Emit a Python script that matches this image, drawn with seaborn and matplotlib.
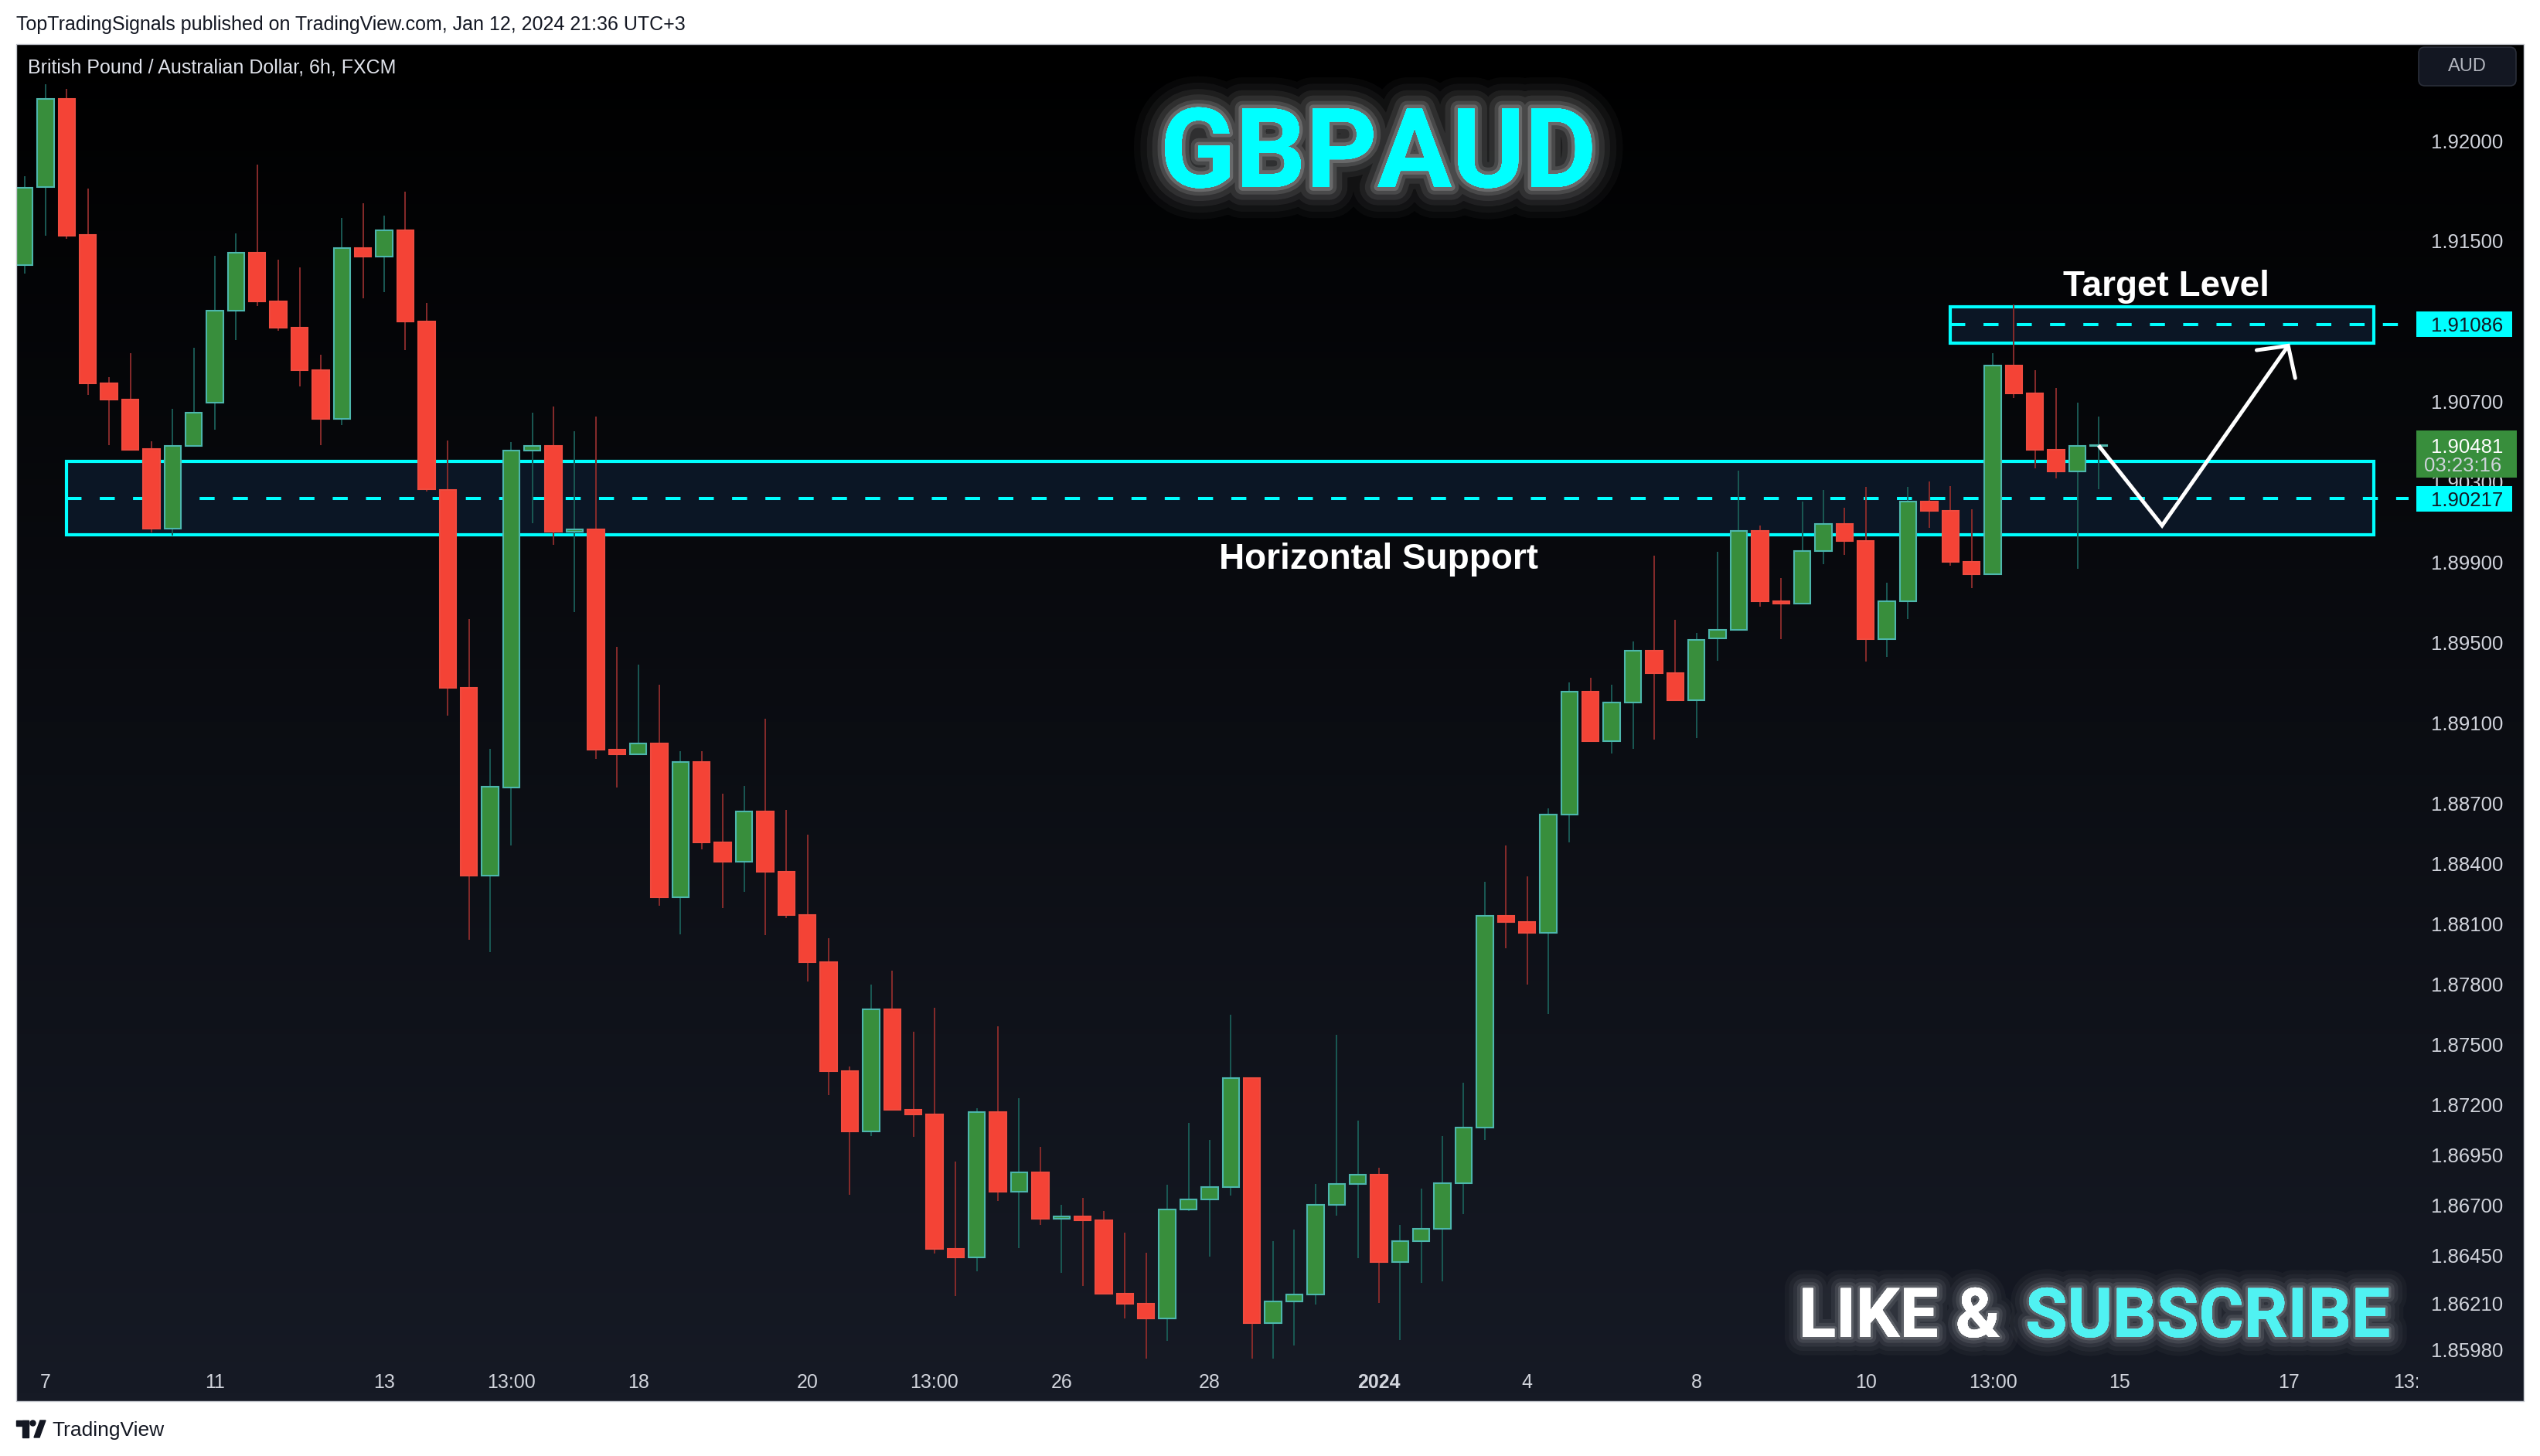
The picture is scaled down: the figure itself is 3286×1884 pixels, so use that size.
import numpy as np
import pandas as pd
import matplotlib
matplotlib.use('Agg')
import matplotlib.pyplot as plt
import matplotlib.patheffects as pe
import matplotlib.transforms as mtransforms
from matplotlib.patches import Rectangle, FancyBboxPatch, Circle, Polygon
from matplotlib.colors import LinearSegmentedColormap
from matplotlib import font_manager as fm
import seaborn as sns

# --------------------------
# Data: GBPAUD 6h candles
# --------------------------
opens = [1.91379, 1.91768, 1.92209, 1.91529, 1.90790, 1.90712, 1.90465, 1.90070, 1.90481, 1.90694,
         1.91152, 1.91444, 1.91201, 1.91070, 1.90859, 1.90616, 1.91466, 1.91422, 1.91553, 1.91099,
         1.90262, 1.89275, 1.88339, 1.88781, 1.90458, 1.90481, 1.90054, 1.90065, 1.88970, 1.88946,
         1.89000, 1.88235, 1.88905, 1.88508, 1.88409, 1.88661, 1.88359, 1.88144, 1.87910, 1.87367,
         1.87068, 1.87674, 1.87176, 1.87152, 1.86484, 1.86440, 1.87162, 1.86768, 1.86862, 1.86633,
         1.86645, 1.86626, 1.86261, 1.86210, 1.86137, 1.86677, 1.86727, 1.86789, 1.87331, 1.86114,
         1.86222, 1.86254, 1.86703, 1.86806, 1.86850, 1.86418, 1.86521, 1.86582, 1.86811, 1.87088,
         1.88139, 1.88109, 1.88057, 1.88646, 1.89255, 1.89010, 1.89203, 1.89459, 1.89348, 1.89213,
         1.89522, 1.89563, 1.90057, 1.89706, 1.89694, 1.89958, 1.90092, 1.90007, 1.89517, 1.89706,
         1.90203, 1.90156, 1.89903, 1.89842, 1.90881, 1.90742, 1.90462, 1.90355, 1.90479]
highs = [1.91822, 1.92280, 1.92258, 1.91762, 1.90823, 1.90942, 1.90503, 1.90665, 1.90968, 1.91426,
         1.91538, 1.91881, 1.91407, 1.91369, 1.90934, 1.91614, 1.91688, 1.91626, 1.91746, 1.91192,
         1.90508, 1.89618, 1.88973, 1.90499, 1.90646, 1.90677, 1.90553, 1.90628, 1.89481, 1.89390,
         1.89291, 1.88959, 1.88959, 1.88749, 1.88788, 1.89122, 1.88668, 1.88544, 1.88029, 1.87391,
         1.87799, 1.87867, 1.87564, 1.87683, 1.86918, 1.87183, 1.87591, 1.87232, 1.86991, 1.86702,
         1.86736, 1.86671, 1.86563, 1.86463, 1.86802, 1.87110, 1.87025, 1.87649, 1.87335, 1.86521,
         1.86577, 1.86806, 1.87547, 1.87120, 1.86887, 1.86602, 1.86781, 1.87044, 1.87309, 1.88310,
         1.88492, 1.88337, 1.88676, 1.89302, 1.89326, 1.89292, 1.89508, 1.89935, 1.89616, 1.89550,
         1.89952, 1.90358, 1.90082, 1.89822, 1.90205, 1.90262, 1.90174, 1.90277, 1.89799, 1.90277,
         1.90304, 1.90281, 1.90163, 1.90943, 1.91185, 1.90859, 1.90767, 1.90695, 1.90626]
lows = [1.91339, 1.91528, 1.91513, 1.90736, 1.90485, 1.90457, 1.90048, 1.90034, 1.90475, 1.90562,
        1.91008, 1.91177, 1.91055, 1.90776, 1.90485, 1.90585, 1.91217, 1.91247, 1.90958, 1.90254,
        1.89137, 1.88020, 1.87959, 1.88490, 1.90097, 1.89987, 1.89652, 1.88921, 1.88779, 1.88946,
        1.88189, 1.88048, 1.88470, 1.88178, 1.88259, 1.88045, 1.88131, 1.87813, 1.87250, 1.86753,
        1.87046, 1.87170, 1.87040, 1.86460, 1.86249, 1.86371, 1.86721, 1.86488, 1.86603, 1.86364,
        1.86296, 1.86255, 1.86137, 1.85938, 1.86026, 1.86670, 1.86444, 1.86749, 1.85938, 1.85938,
        1.86003, 1.86207, 1.86649, 1.86435, 1.86214, 1.86028, 1.86312, 1.86322, 1.86656, 1.87024,
        1.87979, 1.87797, 1.87653, 1.88506, 1.89010, 1.88948, 1.88973, 1.89017, 1.89213, 1.89024,
        1.89410, 1.89563, 1.89678, 1.89517, 1.89694, 1.89892, 1.89938, 1.89406, 1.89429, 1.89620,
        1.90072, 1.89885, 1.89773, 1.89842, 1.90719, 1.90367, 1.90317, 1.89869, 1.90263]
closes = [1.91766, 1.92209, 1.91528, 1.90790, 1.90712, 1.90462, 1.90070, 1.90482, 1.90644, 1.91152,
          1.91444, 1.91201, 1.91070, 1.90859, 1.90616, 1.91466, 1.91422, 1.91553, 1.91099, 1.90263,
          1.89275, 1.88339, 1.88783, 1.90458, 1.90481, 1.90054, 1.90065, 1.88970, 1.88946, 1.89000,
          1.88235, 1.88905, 1.88508, 1.88409, 1.88661, 1.88359, 1.88144, 1.87910, 1.87368, 1.87068,
          1.87674, 1.87176, 1.87152, 1.86484, 1.86440, 1.87162, 1.86768, 1.86862, 1.86633, 1.86645,
          1.86626, 1.86261, 1.86210, 1.86137, 1.86677, 1.86727, 1.86789, 1.87331, 1.86114, 1.86222,
          1.86254, 1.86703, 1.86806, 1.86850, 1.86418, 1.86521, 1.86582, 1.86811, 1.87088, 1.88139,
          1.88109, 1.88057, 1.88646, 1.89255, 1.89010, 1.89203, 1.89459, 1.89348, 1.89213, 1.89513,
          1.89563, 1.90057, 1.89706, 1.89694, 1.89958, 1.90092, 1.90007, 1.89517, 1.89706, 1.90203,
          1.90156, 1.89903, 1.89842, 1.90881, 1.90742, 1.90462, 1.90355, 1.90479, 1.90481]

# time axis (bar index) and price axis labels
time_ticks = [1, 9, 17, 23, 29, 37, 43, 49, 56, 64, 71, 79, 87, 93, 99, 107, 113.05]
time_labels = ['7', '11', '13', '13:00', '18', '20', '13:00', '26', '28', '2024',
               '4', '8', '10', '13:00', '15', '17', '13:00']
price_ticks = [1.92000, 1.91500, 1.90700, 1.90300, 1.89900, 1.89500, 1.89100, 1.88700, 1.88400,
               1.88100, 1.87800, 1.87500, 1.87200, 1.86950, 1.86700, 1.86450, 1.86210, 1.85980]

# drawings
support_level = 1.90217
support_zone = [1.90036, 1.90404]
support_bars = [1.98, 111.0]
target_level = 1.91086
target_zone = [1.90992, 1.91174]
target_bars = [91.0, 111.0]
last_price = 1.90481
countdown = '03:23:16'
path_x = [98.0, 101.0, 106.96]
path_y = [1.90483, 1.90084, 1.90979]
head_x = [105.47, 106.96, 107.29]
head_y = [1.90957, 1.90979, 1.90818]

# --------------------------
# Style
# --------------------------
sns.set_theme(style='dark')
avail = {f.name for f in fm.fontManager.ttflist}
SANS = 'Liberation Sans' if 'Liberation Sans' in avail else 'DejaVu Sans'
if 'Liberation Sans Narrow' in avail:
    BIG_FAM, BIG_SIZE, SUB_SIZE = ['Liberation Sans Narrow'], 113, 69
else:
    BIG_FAM, BIG_SIZE, SUB_SIZE = ['Roboto', SANS], 103, 64
plt.rcParams['font.family'] = [SANS, 'DejaVu Sans']
plt.rcParams['lines.scale_dashes'] = False

CYAN = '#00ffff'
UP, UP_EDGE, UP_WICK = '#388e3c', '#4db6ac', '#1a5954'
DN, DN_EDGE, DN_WICK = '#f44336', '#ef4b3f', '#872b2b'
AXIS_TXT = '#d1d4dc'

W, H, DPI = 3286, 1884, 100
fig = plt.figure(figsize=(W / DPI, H / DPI), dpi=DPI, facecolor='white')
# pixel coords, origin top-left
pix = mtransforms.Affine2D().scale(1 / W, -1 / H).translate(0, 1) + fig.transFigure

PX0, PX1, PY0, PY1 = 21, 3265, 57, 1813
PLOT_RIGHT = 3116
ax = fig.add_axes([PX0 / W, 1 - PY1 / H, (PX1 - PX0) / W, (PY1 - PY0) / H])

def axfrac(px):
    return (px - PX0) / (PX1 - PX0)

# background gradient
bg = LinearSegmentedColormap.from_list('tvbg', ['#000000', '#161a25'])
ax.imshow(np.linspace(0, 1, 256).reshape(-1, 1), cmap=bg, extent=[0, 1, 0, 1],
          transform=ax.transAxes, aspect='auto', zorder=0, interpolation='bicubic')

# --------------------------
# Candles
# --------------------------
df = pd.DataFrame({'o': opens, 'h': highs, 'l': lows, 'c': closes})
df['x'] = np.arange(len(df))
up = df['c'] >= df['o']
body_bot = df[['o', 'c']].min(axis=1)
body_h = (df['c'] - df['o']).abs().clip(lower=0.00004)

ax.vlines(df['x'], df['l'], df['h'], colors=list(np.where(up, UP_WICK, DN_WICK)),
          linewidth=1.4, zorder=3)
ax.bar(df['x'], body_h, bottom=body_bot, width=0.78,
       color=list(np.where(up, UP, DN)), edgecolor=list(np.where(up, UP_EDGE, DN_EDGE)),
       linewidth=1.5, zorder=4)

# --------------------------
# Zones and levels
# --------------------------
for zone, bars, level in [(support_zone, support_bars, support_level),
                          (target_zone, target_bars, target_level)]:
    ax.add_patch(Rectangle((bars[0], zone[0]), bars[1] - bars[0], zone[1] - zone[0],
                           facecolor='#0b1625', edgecolor=CYAN, linewidth=3.0, zorder=2))
    ax.plot([bars[0], 112.65], [level, level], color=CYAN, linewidth=2.9,
            linestyle=(0, (14, 17)), zorder=2.5)

# projected path
sns.lineplot(x=path_x, y=path_y, sort=False, color='white', linewidth=3.6, ax=ax,
             zorder=6, solid_joinstyle='miter', solid_capstyle='butt')
sns.lineplot(x=head_x, y=head_y, sort=False, color='white', linewidth=3.6, ax=ax,
             zorder=6, solid_joinstyle='miter', solid_capstyle='round')

ax.set_xlim(-0.387, 118.09)
ax.set_ylim(1.857245, 1.924810)
ax.set_xlabel('')
ax.set_ylabel('')
ax.grid(False)
for s in ax.spines.values():
    s.set_visible(False)

# --------------------------
# Axes labels (inside the panel, like TradingView)
# --------------------------
ax.yaxis.set_ticks_position('right')
ax.set_yticks(price_ticks)
ax.set_yticklabels([f'{t:.5f}' for t in price_ticks])
ax.tick_params(axis='y', length=0, pad=-(PX1 - 3145) * 0.72, labelsize=18.5, labelcolor=AXIS_TXT)

ax.set_xticks(time_ticks)
ax.set_xticklabels(time_labels)
ax.tick_params(axis='x', length=0, pad=-36 * 0.72, labelsize=18, labelcolor=AXIS_TXT)
xlabs = ax.get_xticklabels()
xlabs[time_labels.index('2024')].set_fontweight('bold')
clip = mtransforms.TransformedBbox(mtransforms.Bbox([[0, 0], [axfrac(3128), 1]]), ax.transAxes)
xlabs[-1].set_clip_on(True)
xlabs[-1].set_clip_box(clip)

# price scale badges
blend = mtransforms.blended_transform_factory(ax.transAxes, ax.transData)
bx0, bw, tx = axfrac(3126), axfrac(3250) - axfrac(3126), axfrac(3145)
for level in [target_level, support_level]:
    ax.add_patch(Rectangle((bx0, level - 0.000635), bw, 0.00127, transform=blend,
                           facecolor=CYAN, edgecolor='none', zorder=5, clip_on=False))
    ax.text(tx, level, f'{level:.5f}', transform=blend, ha='left', va='center_baseline',
            fontsize=18.5, color='#131722', zorder=6)
ax.add_patch(Rectangle((bx0, 1.90321), axfrac(3256) - bx0, 1.90557 - 1.90321,
                       transform=blend, facecolor='#388e3c', edgecolor='none', zorder=5,
                       clip_on=False))
ax.text(tx, last_price, f'{last_price:.5f}', transform=blend, ha='left', va='center_baseline',
        fontsize=18.5, color='white', zorder=6)
ax.text(axfrac(3136), 1.90388, countdown, transform=blend, ha='left', va='center_baseline',
        fontsize=18.5, color='#cfd3db', zorder=6)

# currency button
ax.add_patch(FancyBboxPatch((3129, 61), 126, 50, boxstyle='round,pad=0,rounding_size=8',
                            transform=pix, facecolor='#131722', edgecolor='#2a2e39',
                            linewidth=1.2, zorder=6, clip_on=False))
ax.text(3192, 86, 'AUD', transform=pix, ha='center', va='center', fontsize=17,
        color='#b2b5be', zorder=7)

# --------------------------
# Annotations
# --------------------------
ax.text(101.18, 1.91225, 'Target Level', ha='center', va='baseline', fontsize=33,
        fontweight='bold', color='white', zorder=7)
ax.text(63.97, 1.89870, 'Horizontal Support', ha='center', va='baseline', fontsize=33,
        fontweight='bold', color='white', zorder=7)

glow_big = [pe.withStroke(linewidth=lw, foreground='white', alpha=a)
            for lw, a in [(58, 0.03), (46, 0.04), (34, 0.06), (24, 0.08), (14, 0.12), (7, 0.18)]]
glow_small = [pe.withStroke(linewidth=lw, foreground='white', alpha=a)
              for lw, a in [(34, 0.03), (26, 0.04), (18, 0.06), (11, 0.09), (5, 0.14)]]
ax.text(1783, 242, 'GBPAUD', transform=pix, ha='center', va='baseline', family=BIG_FAM,
        fontsize=BIG_SIZE, fontweight='bold', color=CYAN, zorder=8,
        path_effects=glow_big + [pe.Normal()])
ax.text(2588, 1730, 'LIKE &', transform=pix, ha='right', va='baseline', family=BIG_FAM,
        fontsize=SUB_SIZE, fontweight='bold', color='white', zorder=8,
        path_effects=glow_small + [pe.Normal()])
ax.text(2620, 1730, 'SUBSCRIBE', transform=pix, ha='left', va='baseline', family=BIG_FAM,
        fontsize=SUB_SIZE, fontweight='bold', color='#50f2f2', zorder=8,
        path_effects=glow_small + [pe.Normal()])

ax.text(36.5, 94, 'British Pound / Australian Dollar, 6h, FXCM', transform=pix, ha='left',
        va='baseline', fontsize=18, color='#e0e3eb', zorder=8)

# --------------------------
# Page furniture (header, footer, frame)
# --------------------------
fig.add_artist(Rectangle((PX0, PY0), PX1 - PX0, PY1 - PY0, transform=pix, fill=False,
                         edgecolor='#c4c7ce', linewidth=1.0))
fig.text(21, 39, 'TopTradingSignals published on TradingView.com, Jan 12, 2024 21:36 UTC+3',
         transform=pix, ha='left', va='baseline', fontsize=18, color='#131722')
fig.text(67, 1858, 'TradingView', transform=pix, ha='left', va='baseline', fontsize=19,
         color='#131722')
logo = '#131722'
fig.add_artist(Rectangle((21, 1838), 16, 7, transform=pix, color=logo))
fig.add_artist(Rectangle((29, 1838), 8, 22, transform=pix, color=logo))
fig.add_artist(Circle((42.5, 1841.5), 3.5, transform=pix, color=logo))
fig.add_artist(Polygon([(44, 1860), (52, 1838), (59, 1838), (51, 1860)], closed=True,
                       transform=pix, color=logo))

fig.savefig('out.png', dpi=DPI, facecolor='white')
